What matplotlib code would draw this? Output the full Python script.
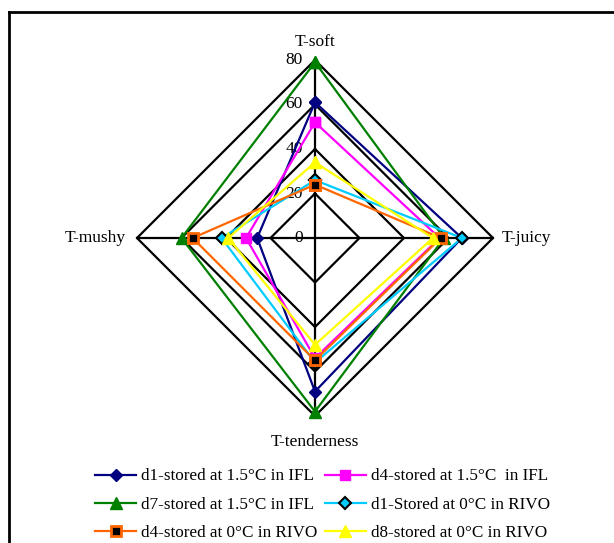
import matplotlib
matplotlib.use("Agg")
import matplotlib.pyplot as plt
from matplotlib.lines import Line2D

plt.rcParams['font.family'] = ['Liberation Serif', 'DejaVu Serif']

categories = ["T-soft", "T-juicy", "T-tenderness", "T-mushy"]
series_names = [
    "d1-stored at 1.5°C in IFL",
    "d4-stored at 1.5°C  in IFL",
    "d7-stored at 1.5°C in IFL",
    "d1-Stored at 0°C in RIVO",
    "d4-stored at 0°C in RIVO",
    "d8-stored at 0°C in RIVO",
]
d1_ifl = [61, 66, 69, 26]
d4_ifl = [52, 56, 54, 31]
d7_ifl = [79, 58, 78, 60]
d1_rivo = [26, 66, 56, 42]
d4_rivo = [24, 56.5, 55, 55]
d8_rivo = [34, 53, 48, 39]
ticks = [0, 20, 40, 60, 80]

series = [d1_ifl, d4_ifl, d7_ifl, d1_rivo, d4_rivo, d8_rivo]
styles = [
    dict(color="#000080", marker="D", mfc="#000080", mec="#000080", ms=6),
    dict(color="#FF00FF", marker="s", mfc="#FF00FF", mec="#FF00FF", ms=7),
    dict(color="#008000", marker="^", mfc="#008000", mec="#008000", ms=8),
    dict(color="#00CCFF", marker="D", mfc="#00CCFF", mec="black", ms=6, mew=1.5),
    dict(color="#FF6600", marker="s", mfc="black", mec="#FF6600", ms=7, mew=2),
    dict(color="#FFFF00", marker="^", mfc="#FFFF00", mec="#FFFF00", ms=8),
]

# direction of each category spoke (top, right, bottom, left)
dirs = [(0, 1), (1, 0), (0, -1), (-1, 0)]

def to_xy(vals):
    xs = [v * d[0] for v, d in zip(vals, dirs)]
    ys = [v * d[1] for v, d in zip(vals, dirs)]
    return xs + xs[:1], ys + ys[:1]

W, H = 614, 543
fig = plt.figure(figsize=(W / 100, H / 100), dpi=100)
ax = fig.add_axes([0, 0, 1, 1])
cx, cy, s = 315, 238, 2.225
ax.set_xlim(-cx / s, (W - cx) / s)
ax.set_ylim(-(H - cy) / s, cy / s)
ax.axis("off")

rmax = ticks[-1]
# grid diamonds
for t in ticks[1:]:
    gx, gy = to_xy([t] * 4)
    ax.plot(gx, gy, color="black", lw=1.6, zorder=1)
# spokes
ax.plot([0, 0], [-rmax, rmax], color="black", lw=1.6, zorder=1)
ax.plot([-rmax, rmax], [0, 0], color="black", lw=1.6, zorder=1)

for t in ticks:
    ax.text(-5.5, t, str(t), ha="right", va="center", fontsize=12.5, zorder=0)

handles = []
for vals, st, name in zip(series, styles, series_names):
    x, y = to_xy(vals)
    h, = ax.plot(x, y, lw=1.6, label=name, zorder=3, **st)
    handles.append(h)

fs = 12.5
ax.text(0, rmax + 8.3, categories[0], ha="center", va="center", fontsize=fs)
ax.text(rmax + 4, 0, categories[1], ha="left", va="center", fontsize=fs)
ax.text(0, -rmax - 8, categories[2], ha="center", va="top", fontsize=fs)
ax.text(-rmax - 5, 0, categories[3], ha="right", va="center", fontsize=fs)

# legend filled row by row (two columns)
order = [0, 2, 4, 1, 3, 5]
leg = fig.legend(handles=[handles[i] for i in order], ncol=2, loc="upper left",
                 bbox_to_anchor=(95 / W, 1 - 468.5 / H), frameon=False,
                 fontsize=12.3, handlelength=2.4, handletextpad=0.3,
                 columnspacing=0.42, labelspacing=0.71, borderpad=0,
                 borderaxespad=0)

# chart-area border (left and top visible)
fig.add_artist(Line2D([8.5 / W, 8.5 / W], [0, 1 - 12 / H], color="black", lw=2,
                      transform=fig.transFigure))
fig.add_artist(Line2D([8.5 / W, 1], [1 - 12 / H, 1 - 12 / H], color="black", lw=2,
                      transform=fig.transFigure))

fig.savefig("out.png", dpi=100)
